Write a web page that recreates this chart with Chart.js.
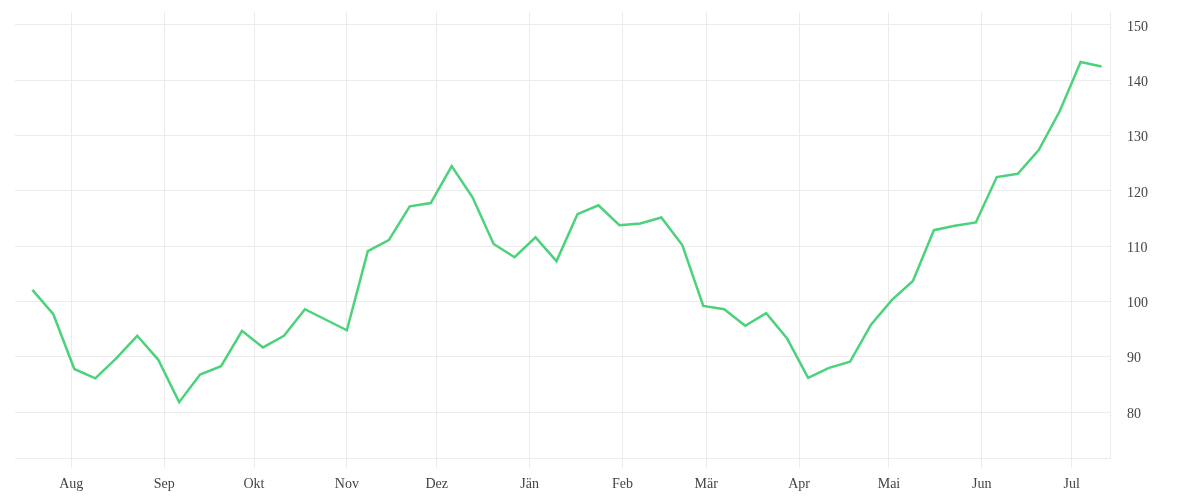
<!DOCTYPE html>
<html>
<head>
<meta charset="utf-8">
<script src="https://cdn.jsdelivr.net/npm/chart.js@4.4.0/dist/chart.umd.min.js"></script>
<style>
  body { margin: 0; background: #fff; }
  #wrap { width: 1200px; height: 500px; }
</style>
</head>
<body>
<div id="wrap"><canvas id="lineChart" width="1200" height="500"></canvas></div>
<script>
// weekly observations
const weekDates = [
  "2018-07-19", "2018-07-26", "2018-08-02", "2018-08-09", "2018-08-16", "2018-08-23", "2018-08-30",
  "2018-09-06", "2018-09-13", "2018-09-20", "2018-09-27", "2018-10-04", "2018-10-11", "2018-10-18",
  "2018-10-25", "2018-11-01", "2018-11-08", "2018-11-15", "2018-11-22", "2018-11-29", "2018-12-06",
  "2018-12-13", "2018-12-20", "2018-12-27", "2019-01-03", "2019-01-10", "2019-01-17", "2019-01-24",
  "2019-01-31", "2019-02-07", "2019-02-14", "2019-02-21", "2019-02-28", "2019-03-07", "2019-03-14",
  "2019-03-21", "2019-03-28", "2019-04-04", "2019-04-11", "2019-04-18", "2019-04-25", "2019-05-02",
  "2019-05-09", "2019-05-16", "2019-05-23", "2019-05-30", "2019-06-06", "2019-06-13", "2019-06-20",
  "2019-06-27", "2019-07-04", "2019-07-11"
];
const weekValues = [
  102.1, 97.7, 87.8, 86.1, 89.7, 93.8, 89.5, 81.8, 86.8, 88.3, 94.7, 91.7, 93.8,
  98.6, 96.7, 94.8, 109.1, 111.1, 117.2, 117.8, 124.5, 118.8, 110.4, 108.0, 111.6, 107.3,
  115.8, 117.4, 113.8, 114.1, 115.2, 110.2, 99.2, 98.6, 95.6, 97.9, 93.3, 86.2, 88.0,
  89.1, 95.8, 100.3, 103.7, 112.9, 113.7, 114.3, 122.5, 123.1, 127.4, 134.4, 143.3, 142.5
];

// x axis ticks (month starts) and their labels
const monthDates = [
  "2018-08-01", "2018-09-01", "2018-10-01", "2018-11-01", "2018-12-01", "2019-01-01",
  "2019-02-01", "2019-03-01", "2019-04-01", "2019-05-01", "2019-06-01", "2019-07-01"
];
const monthLabels = ["Aug", "Sep", "Okt", "Nov", "Dez", "Jän", "Feb", "Mär", "Apr", "Mai", "Jun", "Jul"];
const yTicks = [80, 90, 100, 110, 120, 130, 140, 150];

const xRange = ["2018-07-13", "2019-07-14"];
const yRange = [71.7, 152.35];

// days since the first month tick
const origin = Date.parse(monthDates[0]);
function toDay(s) {
  return (Date.parse(s) - origin) / 86400000;
}

const monthDays = monthDates.map(toDay);
const points = weekDates.map((d, i) => ({ x: toDay(d), y: weekValues[i] }));

const gridColor = "#ebebeb";
const tickFont = { family: "'Liberation Serif', serif", size: 14 };

new Chart(document.getElementById("lineChart"), {
  type: "line",
  data: {
    datasets: [{
      data: points,
      borderColor: "#4cd27b",
      borderWidth: 2.5,
      pointRadius: 0,
      tension: 0,
      fill: false
    }]
  },
  options: {
    responsive: false,
    animation: false,
    layout: { padding: { left: 15, top: 12, right: 0, bottom: 0 } },
    plugins: {
      legend: { display: false },
      tooltip: { enabled: false }
    },
    scales: {
      x: {
        type: "linear",
        min: toDay(xRange[0]) + 0.2,
        max: toDay(xRange[1]) - 0.2,
        afterBuildTicks: (axis) => {
          axis.ticks = monthDays.map((v) => ({ value: v }));
        },
        afterFit: (axis) => {
          axis.height = 42;
          axis.paddingLeft = 0;
          axis.paddingRight = 0;
        },
        grid: { color: gridColor, lineWidth: 1, tickLength: 10 },
        border: { color: gridColor },
        ticks: {
          color: "#444",
          font: tickFont,
          padding: 8,
          maxRotation: 0,
          autoSkip: false,
          callback: (v) => monthLabels[monthDays.indexOf(v)]
        }
      },
      y: {
        position: "right",
        min: yRange[0],
        max: yRange[1],
        afterBuildTicks: (axis) => {
          axis.ticks = yTicks.map((v) => ({ value: v }));
        },
        afterFit: (axis) => {
          axis.width = 90;
          axis.paddingTop = 0;
          axis.paddingBottom = 0;
        },
        grid: { color: gridColor, lineWidth: 1, drawTicks: false },
        border: { color: gridColor },
        ticks: {
          color: "#444",
          font: tickFont,
          padding: 17,
          labelOffset: 2,
          callback: (v) => String(v)
        }
      }
    }
  }
});
</script>
</body>
</html>
